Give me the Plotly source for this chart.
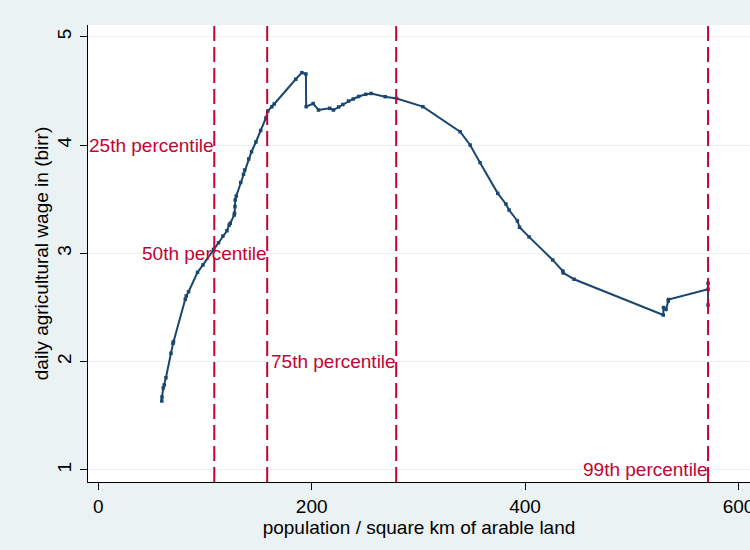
import plotly.graph_objects as go

# population density (per sq km of arable land) and daily agricultural wage (birr)
density = [59.5, 59.7, 60.9, 61.8, 63.4, 68.1, 70.0, 70.5, 81.5, 82.4, 84.6, 93.0, 98.1,
           108.0, 112.7, 116.8, 120.6, 122.7, 123.7, 127.4, 127.7, 128.1, 128.3, 129.3,
           133.5, 136.1, 137.2, 141.0, 143.6, 147.7, 152.2, 157.1, 158.8, 162.7, 164.9,
           185.0, 190.8, 194.6, 194.8, 201.4, 206.4, 216.9, 220.4, 225.3, 229.2, 234.5,
           238.9, 244.0, 250.6, 255.7, 268.9, 279.6, 304.2, 339.1, 348.5, 357.8, 374.4,
           382.0, 385.0, 392.8, 394.8, 403.7, 425.9, 435.3, 435.8, 445.9, 529.5, 529.7,
           532.1, 534.2, 534.4, 571.5, 571.5, 571.5]
wage = [1.637, 1.674, 1.757, 1.785, 1.852, 2.077, 2.170, 2.185, 2.576, 2.606, 2.646, 2.825, 2.893,
        3.037, 3.098, 3.160, 3.209, 3.262, 3.278, 3.354, 3.370, 3.431, 3.493, 3.529,
        3.654, 3.730, 3.769, 3.871, 3.938, 4.028, 4.134, 4.250, 4.314, 4.354, 4.379,
        4.607, 4.668, 4.656, 4.354, 4.383, 4.323, 4.339, 4.323, 4.351, 4.374, 4.406,
        4.425, 4.448, 4.468, 4.476, 4.446, 4.430, 4.354, 4.123, 4.000, 3.837, 3.554,
        3.456, 3.400, 3.299, 3.241, 3.152, 2.939, 2.837, 2.819, 2.761, 2.431, 2.500,
        2.482, 2.560, 2.574, 2.668, 2.724, 2.523]

pct_labels = ["25th percentile", "50th percentile", "75th percentile", "99th percentile"]
pct_values = [108.7, 158.3, 279.2, 571.5]
pct_label_y = [4, 3, 2, 1]

x_ticks = [0, 200, 400, 600]
y_ticks = [1, 2, 3, 4, 5]

NAVY = "#1a476f"
RED = "#c10534"
BG = "#eaf2f3"
FONT = "Liberation Sans, Arial, sans-serif"

fig = go.Figure()
fig.add_trace(go.Scatter(
    x=density, y=wage, mode="lines+markers",
    line=dict(color=NAVY, width=2),
    marker=dict(symbol="square", size=3.5, color=NAVY),
    showlegend=False, hoverinfo="skip"))

for v in pct_values:
    fig.add_shape(type="line", xref="x", yref="paper", x0=v, x1=v, y0=0, y1=1,
                  line=dict(color=RED, width=2, dash="15px,6px"), layer="above")

for lab, v, yy in zip(pct_labels, pct_values, pct_label_y):
    fig.add_annotation(x=v, y=yy, xref="x", yref="y", text=lab, showarrow=False,
                       xanchor="right", yanchor="middle", xshift=2,
                       font=dict(family=FONT, size=19, color=RED))

fig.update_layout(
    width=750, height=550,
    margin=dict(l=88, r=0, t=25, b=68, autoexpand=False),
    paper_bgcolor=BG, plot_bgcolor="white",
    font=dict(family=FONT, size=19, color="black"),
    xaxis=dict(range=[-9.65, 610.8], tickvals=x_ticks, ticks="outside", ticklen=7,
               tickcolor="black", showgrid=False, zeroline=False,
               showline=True, linecolor="black", linewidth=1,
               ticklabeloverflow="allow", automargin=False,
               title=dict(text="population / square km of arable land", standoff=4,
                          font=dict(size=19))),
    yaxis=dict(range=[0.889, 5.108], tickvals=y_ticks, ticks="outside", ticklen=7,
               tickcolor="black", tickangle=-90, showgrid=True, gridcolor=BG, gridwidth=1,
               ticklabelstandoff=1, automargin=False,
               zeroline=False, showline=True, linecolor="black", linewidth=1,
               title=dict(text="daily agricultural wage in (birr)", standoff=0,
                          font=dict(size=19))),
)

fig.write_html("out.html")
